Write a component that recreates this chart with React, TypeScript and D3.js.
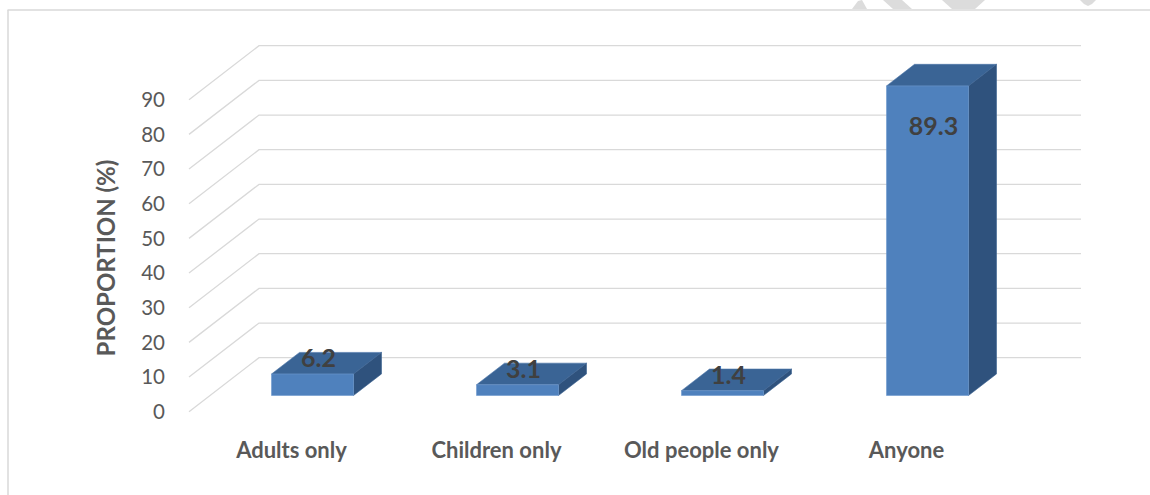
import React from "react";
import * as d3 from "d3";

const categories = ["Adults only", "Children only", "Old people only", "Anyone"];
const values = [6.2, 3.1, 1.4, 89.3];
const valueLabels = ["6.2", "3.1", "1.4", "89.3"];
const yTicks = [0, 10, 20, 30, 40, 50, 60, 70, 80, 90];
const yTitle = "PROPORTION (%)";

const W = 1150;
const H = 495;
const FONT = "Lato, 'Open Sans', sans-serif";

// 3D projection: front plane at depth 0, back wall at depth 1
const DEPTH_DX = 70;
const DEPTH_DY = -54;
const FRONT_BASE = 411.7;
const xBand = d3.scaleBand<string>().domain(categories).range([189, 1009]).paddingInner(0).paddingOuter(0);
const yScale = d3.scaleLinear().domain([0, 90]).range([0, 312]);

const proj = (x: number, v: number, d: number): [number, number] => [
  x + d * DEPTH_DX,
  FRONT_BASE - yScale(v) + d * DEPTH_DY,
];

const BAR_FRAC = 0.4;
const BAR_D0 = 0.3;
const BAR_D1 = 0.7;

const FRONT_COLOR = "#4F81BD";
const TOP_COLOR = "#3A6495";
const SIDE_COLOR = "#2F527D";
const GRID = "#D9D9D9";
const TEXT = "#595959";
const LABEL = "#404040";

function poly(pts: [number, number][]) {
  return pts.map((p) => p.join(",")).join(" ");
}

export default function App() {
  const x0 = xBand.range()[0];
  const x1 = xBand.range()[1];
  const bw = xBand.bandwidth();

  return (
    <svg
      width={W}
      height={H}
      viewBox={`0 0 ${W} ${H}`}
      style={{ position: "absolute", left: 0, top: 0, background: "#fff" }}
    >
      {/* watermark fragments at top */}
      <g fill="#DCDCDC">
        <polygon points="852,9 858,1 862,0 867,9" />
        <polygon points="883,0 902,0 912,9 893,9" />
        <polygon points="942,0 985,0 975,9 952,9" />
        <polygon points="1080,0 1096,0 1092,4 1088,6 1084,4" />
      </g>
      {/* chart border (top and left) */}
      <line x1={7.5} y1={10} x2={W} y2={10} stroke="#D9D9D9" strokeWidth={1.5} />
      <line x1={8} y1={10} x2={8} y2={H} stroke="#D9D9D9" strokeWidth={1.5} />

      {/* gridlines: left wall diagonal + back wall */}
      <g stroke={GRID} strokeWidth={1.3} fill="none">
        {yTicks.map((t) => {
          const a = proj(x0, t, 0);
          const b = proj(x0, t, 1);
          const c = proj(x1 + 2, t, 1);
          return <polyline key={t} points={poly([a, b, c])} />;
        })}
      </g>

      {/* y tick labels */}
      <g fill={TEXT} fontFamily={FONT} fontSize={20.5} textAnchor="end">
        {yTicks.map((t) => {
          const [, y] = proj(x0, t, 0);
          return (
            <text key={t} x={165} y={y} dy="0.36em">
              {t}
            </text>
          );
        })}
      </g>

      {/* y axis title */}
      <text
        transform={`translate(106.5,258) rotate(-90)`}
        textAnchor="middle"
        dy="0.36em"
        fill={TEXT}
        fontFamily={FONT}
        fontSize={24}
        fontWeight="bold"
      >
        {yTitle}
      </text>

      {/* bars */}
      {categories.map((c, i) => {
        const v = values[i];
        const bx0 = (xBand(c) as number) + bw * (1 - BAR_FRAC) / 2;
        const bx1 = bx0 + bw * BAR_FRAC;
        const fbl = proj(bx0, 0, BAR_D0);
        const fbr = proj(bx1, 0, BAR_D0);
        const ftl = proj(bx0, v, BAR_D0);
        const ftr = proj(bx1, v, BAR_D0);
        const btl = proj(bx0, v, BAR_D1);
        const btr = proj(bx1, v, BAR_D1);
        const bbr = proj(bx1, 0, BAR_D1);
        const frontCx = (fbl[0] + fbr[0]) / 2;
        const ly = v > 50 ? ftl[1] + 40 : ftl[1] - 16;
        return (
          <g key={c}>
            <polygon points={poly([ftl, ftr, btr, btl])} fill={TOP_COLOR} stroke="#4A74A8" strokeWidth={0.6} />
            <polygon points={poly([fbr, ftr, btr, bbr])} fill={SIDE_COLOR} stroke="#3A6190" strokeWidth={0.6} />
            <polygon points={poly([fbl, fbr, ftr, ftl])} fill={FRONT_COLOR} stroke="#6D97CC" strokeWidth={0.6} />
            <text
              x={frontCx + 6}
              y={ly}
              dy="0.36em"
              textAnchor="middle"
              fill={LABEL}
              fontFamily={FONT}
              fontSize={25}
              fontWeight="bold"
            >
              {valueLabels[i]}
            </text>
          </g>
        );
      })}

      {/* category labels */}
      <g fill={TEXT} fontFamily={FONT} fontSize={22} fontWeight="bold" textAnchor="middle">
        {categories.map((c) => {
          const cx = (xBand(c) as number) + bw / 2;
          return (
            <text key={c} x={cx} y={450} dy="0.36em">
              {c}
            </text>
          );
        })}
      </g>
    </svg>
  );
}
